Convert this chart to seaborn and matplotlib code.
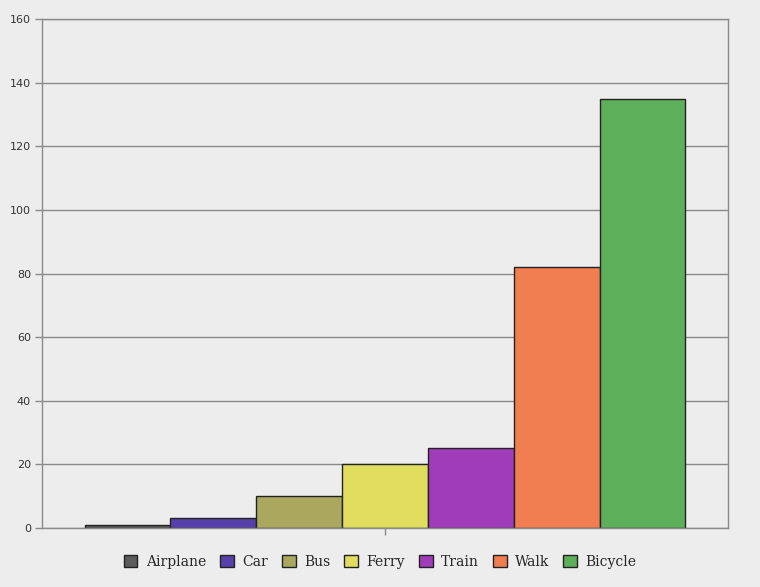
import pandas as pd
import matplotlib.pyplot as plt
import seaborn as sns

# values
modes = ['Airplane', 'Car', 'Bus', 'Ferry', 'Train', 'Walk', 'Bicycle']
counts = [1, 3, 10, 20, 25, 82, 135]
colors = ['#5c5c5c', '#5541a9', '#aaa75f', '#e0dd5f', '#a03cb9', '#f07e50', '#5daf59']
yticks = [0, 20, 40, 60, 80, 100, 120, 140, 160]

df = pd.DataFrame({'group': [''] * len(modes), 'mode': modes, 'count': counts})

sns.set_style('white')
plt.rcParams['font.family'] = ['DejaVu Sans']

BG = '#ededed'
fig = plt.figure(figsize=(7.6, 5.87), dpi=100, facecolor=BG)
ax = fig.add_axes([0.0553, 0.1005, 0.9026, 0.8671], facecolor=BG)

sns.barplot(data=df, x='group', y='count', hue='mode', hue_order=modes,
            palette=colors, width=0.8, edgecolor='#222222', linewidth=1.0,
            saturation=1, ax=ax, legend=False)

# gridlines and frame
ax.set_ylim(0, 160)
ax.set_yticks(yticks)
ax.set_yticklabels([str(t) for t in yticks], fontsize=8, color='#333333')
ax.set_xlim(-0.4566, 0.4566)
ax.set_xticks([0])
ax.set_xticklabels([''])
ax.yaxis.grid(True, color='#8a8a8a', linewidth=1.0)
ax.set_axisbelow(True)
ax.tick_params(axis='y', length=5, width=1, color='#8a8a8a', pad=3, left=True)
ax.tick_params(axis='x', length=5, width=1, color='#8a8a8a', bottom=True)
for side in ['left', 'bottom', 'right', 'top']:
    ax.spines[side].set_visible(True)
    ax.spines[side].set_color('#8a8a8a')
    ax.spines[side].set_linewidth(1.0)
ax.set_xlabel('')
ax.set_ylabel('')

# legend along the bottom
handles = [plt.Rectangle((0, 0), 1, 1, facecolor=c, edgecolor='#222222', linewidth=1.0)
           for c in colors]
fig.legend(handles, modes, loc='center', bbox_to_anchor=(0.5, 0.043), ncol=len(modes),
           frameon=False, handlelength=1.0, handleheight=1.0, handletextpad=0.6,
           columnspacing=1.0, prop={'family': 'DejaVu Serif', 'size': 10})

plt.savefig('out.png', dpi=100, facecolor=BG)
